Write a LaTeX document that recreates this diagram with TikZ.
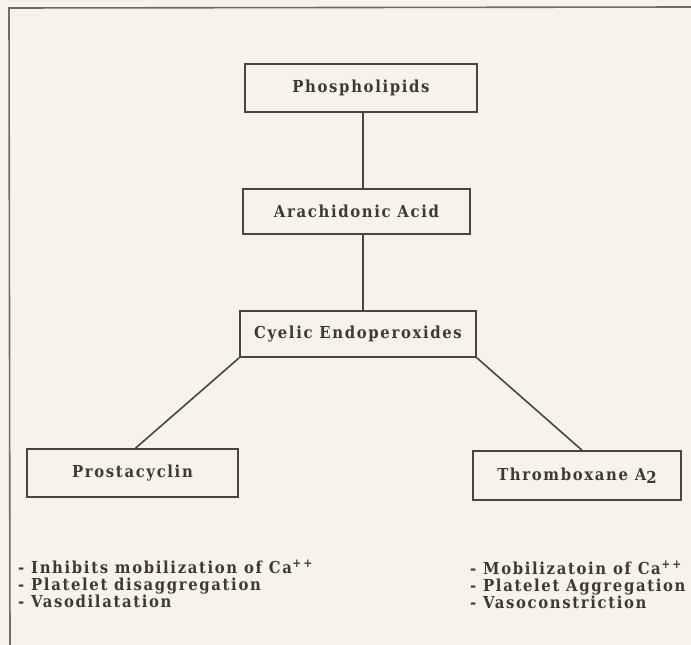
\documentclass[tikz,border=0pt]{standalone}
\usepackage{fontspec}
\setmainfont{DejaVu Serif Condensed}[LetterSpace=10]
\definecolor{paper}{HTML}{F6F3EC}
\definecolor{ink}{HTML}{3E3934}
\definecolor{rule}{HTML}{4A4540}
\newcommand{\capp}{Ca\kern0.5pt\raisebox{6pt}{\fontsize{12}{12}\selectfont +\kern2pt+}}
\tikzset{
  box/.style={draw=rule, line width=1.6pt, inner sep=0pt, text=ink,
    font=\fontsize{16.5}{16.5}\selectfont\bfseries},
  link/.style={draw=rule, line width=1.6pt},
  frame/.style={draw=rule!80, line width=1.6pt},
  item/.style={anchor=base west, inner sep=0pt, text=ink,
    font=\fontsize{16.5}{16.5}\selectfont\bfseries}
}
\begin{document}
\begin{tikzpicture}[x=1pt,y=-1pt]
\fill[paper] (0,0) rectangle (691,645);
\useasboundingbox (0,0) rectangle (691,645);
% frame
\coordinate (fr) at (691,7);
\coordinate (fc) at (9,8);
\coordinate (fb) at (10,645);
\draw[frame] (fr) -- (fc) -- (fb);
% boxes
\node[box, minimum width=232pt, minimum height=48pt] (phos) at (361,88) {Phospholipids};
\node[box, minimum width=227pt, minimum height=45pt] (arach) at (356.5,211.5) {Arachidonic Acid};
\node[box, minimum width=236pt, minimum height=46pt] (cyel) at (358,334) {Cyelic Endoperoxides};
\node[box, minimum width=211pt, minimum height=48pt] (pros) at (132.5,473) {Prostacyclin};
\node[box, minimum width=208pt, minimum height=49pt] (thro) at (577,475.5) {Thromboxane A\raisebox{-3.5pt}{2}};
% connectors
\draw[link] ([xshift=2pt]phos.south) -- ([xshift=2pt]arach.north -| phos.south);
\draw[link] ([xshift=6.5pt]arach.south) -- ([xshift=6.5pt]cyel.north -| arach.south);
\draw[link] (cyel.south west) -- ([xshift=3pt]pros.north);
\draw[link] (cyel.south east) -- ([xshift=5pt]thro.north);
% effects
\node[item] (l1) at (18,573) {- Inhibits mobilization of \capp};
\node[item] (l2) at (18,590) {- Platelet disaggregation};
\node[item] (l3) at (18,607) {- Vasodilatation};
\node[item] (r1) at (470,574) {- Mobilizatoin of \capp};
\node[item] (r2) at (470,591) {- Platelet Aggregation};
\node[item] (r3) at (470,608) {- Vasoconstriction};
\end{tikzpicture}
\end{document}
